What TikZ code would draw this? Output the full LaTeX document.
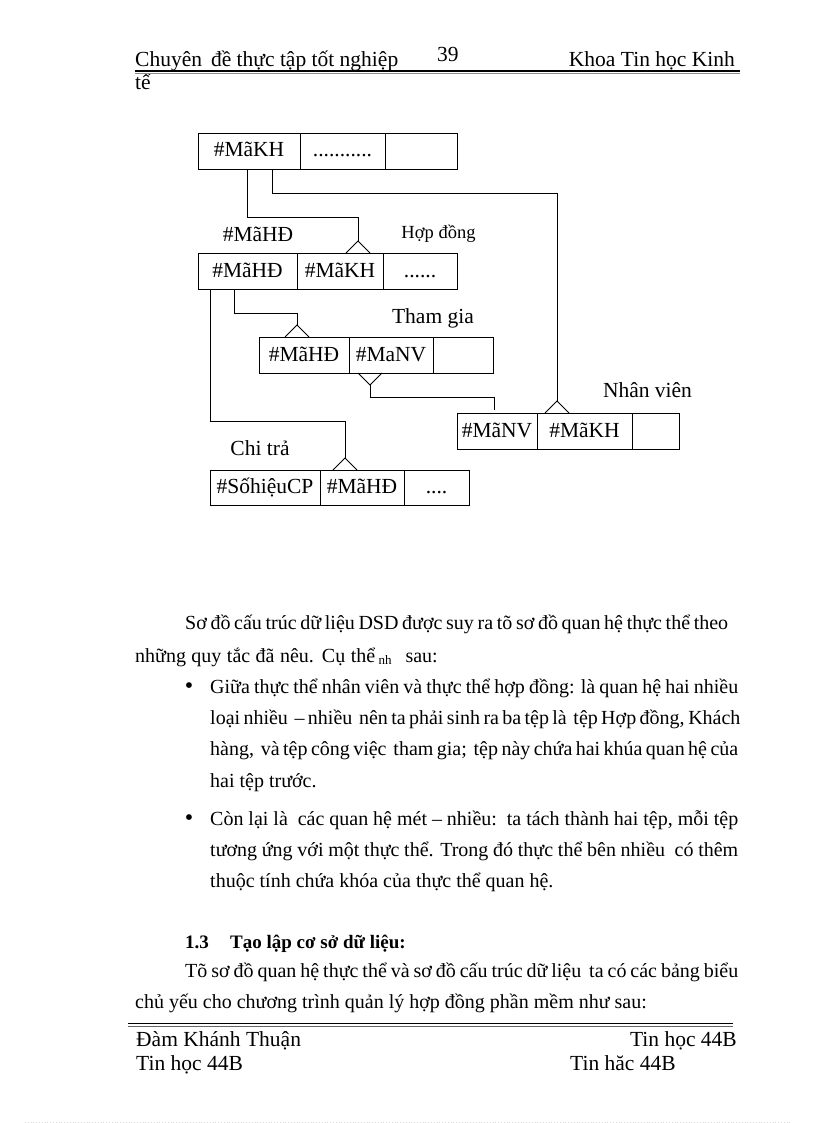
\documentclass[tikz,border=0pt]{standalone}
\usepackage{fontspec}
\setmainfont{Liberation Serif}
\usepackage{tikz}
\usetikzlibrary{positioning,calc}
\newcommand{\bodyfont}{\fontsize{21.5}{31}\selectfont}
\newcommand{\parafont}{\fontsize{20}{31}\selectfont}
\newcommand{\smallfont}{\fontsize{18.5}{22}\selectfont}
\tikzstyle{cell} = [rectangle, draw=black, line width=0.9pt, minimum height=36pt, inner sep=0pt, outer sep=0pt, text height=12pt, text depth=0pt, font=\bodyfont]
\tikzstyle{tname} = [inner sep=0pt, anchor=base, font=\bodyfont]
\tikzstyle{txt} = [inner sep=0pt, anchor=base west, font=\bodyfont]
\tikzstyle{para} = [inner sep=0pt, anchor=base west, font=\parafont]
\tikzstyle{link} = [line width=0.9pt]
\tikzset{crowup/.pic={\draw[link] (-12,0) -- (0,-12) -- (12,0);},
         crowdown/.pic={\draw[link] (-12,0) -- (0,12) -- (12,0);}}

\begin{document}
\begin{tikzpicture}[x=1pt,y=-1pt]
			\useasboundingbox (0,0) rectangle (816,1123);
			% header
			\node (head1) [txt] at (135,67) {Chuyên\, đề thực tập tốt nghiệp};
			\node (page) [txt] at (437,62) {39};
			\node (head2) [txt,anchor=base east] at (735,67) {Khoa Tin học Kinh};
			\node (head3) [txt] at (135,90) {tế};
			\draw [line width=1.3pt] (135,71) -- (740,71);
			\draw [line width=1pt,black!45] (135,73.6) -- (740,73.6);
			%-----------------------------------------------
			% tables
			\node (kh1) [cell,minimum width=102pt] at (249,151) {\#MãKH};
			\node (kh2) [cell,minimum width=85pt,right=0pt of kh1] {...........};
			\node (kh3) [cell,minimum width=72pt,right=0pt of kh2] {};
			\node (hd1) [cell,minimum width=99pt] at (247.5,271) {\#MãHĐ};
			\node (hd2) [cell,minimum width=86pt,right=0pt of hd1] {\#MãKH};
			\node (hd3) [cell,minimum width=74pt,right=0pt of hd2] {......};
			\node (tg1) [cell,minimum width=90pt] at (304,355) {\#MãHĐ};
			\node (tg2) [cell,minimum width=84pt,right=0pt of tg1] {\#MaNV};
			\node (tg3) [cell,minimum width=60pt,right=0pt of tg2] {};
			\node (nv1) [cell,minimum width=80pt] at (497,431) {\#MãNV};
			\node (nv2) [cell,minimum width=95pt,right=0pt of nv1] {\#MãKH};
			\node (nv3) [cell,minimum width=47pt,right=0pt of nv2] {};
			\node (ct1) [cell,minimum width=110pt,minimum height=35pt] at (265,487.5) {\#SốhiệuCP};
			\node (ct2) [cell,minimum width=84pt,minimum height=35pt,right=0pt of ct1] {\#MãHĐ};
			\node (ct3) [cell,minimum width=65pt,minimum height=35pt,right=0pt of ct2] {....};
			% table names
			\node (hdkey) [tname] at (258,241) {\#MãHĐ};
			\node (hdname) [tname,font=\smallfont] at (438.5,239) {Hợp đồng};
			\node (tgname) [tname] at (433,323) {Tham gia};
			\node (nvname) [tname] at (647.5,397) {Nhân viên};
			\node (ctname) [tname] at (260,455) {Chi trả};
			%-----------------------------------------------
			\draw [link] ($(kh1.south)+(-2,0)$) -- ++(0,48) -| ($(hd2.north)+(18,-12)$);
			\pic at ($(hd2.north)+(18,0)$) {crowup};
			\draw [link] ($(kh1.south)+(23,0)$) -- ++(0,24) -| ($(nv2.north)+(-27.5,-12)$);
			\pic at ($(nv2.north)+(-27.5,0)$) {crowup};
			\draw [link] ($(hd1.south)+(-37.5,0)$) -- ++(0,132) -| ($(ct2.north)+(-17,-12)$);
			\pic at ($(ct2.north)+(-17,0)$) {crowup};
			\draw [link] ($(hd1.south)+(-13.5,0)$) -- ++(0,24) -| ($(tg1.north)+(-7,-12)$);
			\pic at ($(tg1.north)+(-7,0)$) {crowup};
			\pic at ($(tg2.south)+(-21,0)$) {crowdown};
			\draw [link] ($(tg2.south)+(-21,12)$) -- ++(0,12) -| ($(nv1.north)+(-3,-3)$);
			%-----------------------------------------------
			% text
			\node (l1) [para] at (185,629) {\makebox[543pt][s]{Sơ đồ cấu trúc dữ liệu DSD được suy ra tõ sơ đồ quan hệ thực thể theo}};
			\node (l2) [para] at (135,662) {\makebox[240pt][s]{những quy tắc đã nêu. Cụ thể}\,\raisebox{-2.5pt}{\fontsize{13}{13}\selectfont nh}\hspace{14pt}sau:};
			\node (dot1) [tname,font=\fontsize{24}{24}\selectfont] at (189,693) {•};
			\node (b1a) [para] at (210,693) {\makebox[528pt][s]{Giữa thực thể nhân viên và thực thể hợp đồng: là quan hệ hai nhiều}};
			\node (b1b) [para] at (210,724) {\makebox[528pt][s]{loại nhiều\ \ – nhiều\ \ nên ta phải sinh ra ba tệp là\ \ tệp Hợp đồng, Khách}};
			\node (b1c) [para] at (210,755) {\makebox[528pt][s]{hàng,\ \ và tệp công việc\ \ tham gia;\ \ tệp này chứa hai khúa quan hệ của}};
			\node (b1d) [para] at (210,787) {hai tệp trước.};
			\node (dot2) [tname,font=\fontsize{24}{24}\selectfont] at (189,825) {•};
			\node (b2a) [para] at (210,825) {\makebox[528pt][s]{Còn lại là\ \ các quan hệ mét – nhiều:\ \ ta tách thành hai tệp, mỗi tệp}};
			\node (b2b) [para] at (210,856) {\makebox[528pt][s]{tương ứng với một thực thể. Trong đó thực thể bên nhiều\ \ có thêm}};
			\node (b2c) [para] at (210,887) {thuộc tính chứa khóa của thực thể quan hệ.};
			\node (sec) [para,font=\fontsize{19}{31}\selectfont\bfseries] at (185,948) {\makebox[45pt][l]{1.3}Tạo lập cơ sở dữ liệu:};
			\node (l3) [para] at (185,977) {\makebox[553pt][s]{Tõ sơ đồ quan hệ thực thể và sơ đồ cấu trúc dữ liệu\ \ ta có các bảng biểu}};
			\node (l4) [para] at (135,1008) {chủ yếu cho chương trình quản lý hợp đồng phần mềm như sau:};
			%-----------------------------------------------
			% footer
			\draw [line width=1pt] (128,1023) -- (733,1023);
			\draw [line width=1pt,black!60] (128,1026.5) -- (733,1026.5);
			\node (foot1) [txt] at (136,1046) {Đàm Khánh Thuận};
			\node (foot2) [txt,anchor=base east] at (737,1046) {Tin học 44B};
			\node (foot3) [txt] at (136,1070) {Tin học 44B};
			\node (foot4) [txt] at (570,1070) {Tin hăc 44B};
			\draw [black!15,dotted,line width=0.8pt] (25,1122) -- (790,1122);
			\end{tikzpicture}
\end{document}
